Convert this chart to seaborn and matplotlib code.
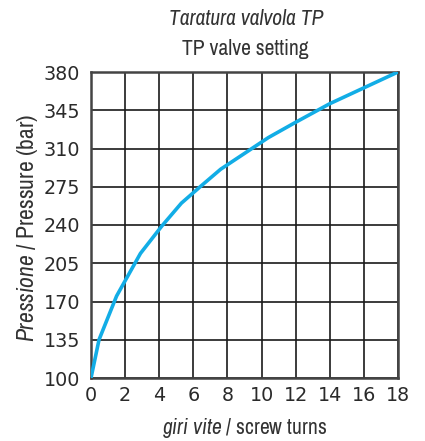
import matplotlib
matplotlib.use("Agg")
import matplotlib.pyplot as plt
import seaborn as sns
import pandas as pd

# Screw turns vs. set pressure for the TP valve
turns = [0, 0.47, 1.5, 2.9, 4.15, 5.3, 6.4, 7.6, 10.4, 12, 14, 16, 18]
pressure = [100, 135, 175, 214, 239, 260, 275, 291, 320, 334, 351, 365.5, 380]

x_ticks = [0, 2, 4, 6, 8, 10, 12, 14, 16, 18]
y_ticks = [100, 135, 170, 205, 240, 275, 310, 345, 380]

df = pd.DataFrame({"turns": turns, "pressure": pressure})

sns.set_theme(style="white")
plt.rcParams["font.family"] = ["DejaVu Sans"]
plt.rcParams["mathtext.fontset"] = "custom"
plt.rcParams["mathtext.rm"] = "Archivo Narrow"
plt.rcParams["mathtext.it"] = "Archivo Narrow:italic"

narrow = ["Archivo Narrow", "Liberation Sans", "DejaVu Sans"]
txt_color = "#333333"

fig = plt.figure(figsize=(4.25, 4.41), dpi=100)
ax = fig.add_axes([91 / 425, 1 - 378 / 441, 307 / 425, 306 / 441])

sns.lineplot(data=df, x="turns", y="pressure", ax=ax, color="#12ade6",
             linewidth=2.6, zorder=3)

ax.set_xlim(0, 18)
ax.set_ylim(100, 380)
ax.set_xticks(x_ticks)
ax.set_yticks(y_ticks)
ax.grid(True, color="#1a1a1a", linewidth=1.2)
ax.set_axisbelow(True)
for s in ax.spines.values():
    s.set_color("#444444")
    s.set_linewidth(1.8)

ax.tick_params(axis="both", length=0, labelsize=13.8, labelcolor="#2a2a2a")
ax.tick_params(axis="y", pad=8)
ax.tick_params(axis="x", pad=6)

ax.set_xlabel(r"$\mathit{giri\ vite}$ / screw turns", family=narrow,
              fontsize=15.5, color=txt_color, labelpad=8)
ax.set_ylabel(r"$\mathit{Pressione}$ / Pressure (bar)", family=narrow,
              fontsize=17, color=txt_color, labelpad=5)
ax.yaxis.set_label_coords(-0.165, 0.49)

fig.text(246 / 425, 1 - 19 / 441, "Taratura valvola TP", family=narrow,
         style="italic", fontsize=15.5, color=txt_color, ha="center", va="center")
fig.text(245 / 425, 1 - 49 / 441, "TP valve setting", family=narrow,
         fontsize=15.5, color=txt_color, ha="center", va="center")

fig.savefig("out.png", dpi=100)
